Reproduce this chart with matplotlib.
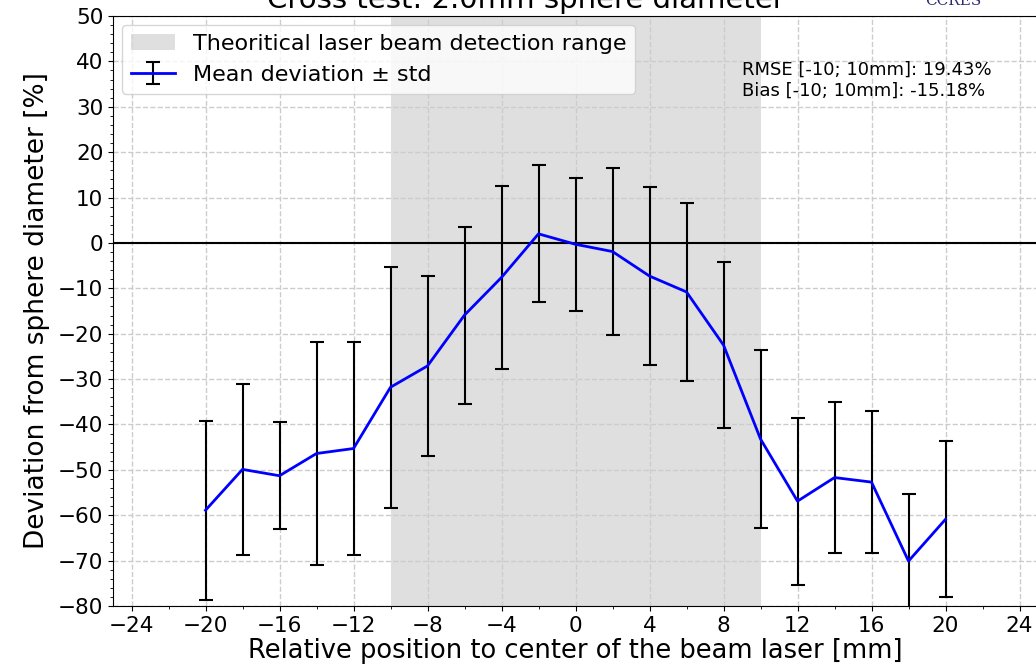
import matplotlib
matplotlib.use("Agg")
import matplotlib.pyplot as plt
from matplotlib.ticker import MultipleLocator, AutoMinorLocator
import numpy as np

positions = [-20, -18, -16, -14, -12, -10, -8, -6, -4, -2, 0, 2, 4, 6, 8, 10, 12, 14, 16, 18, 20]
mean_dev = [-58.9, -49.9, -51.3, -46.4, -45.3, -31.8, -27.1, -15.9, -7.6, 2.0, -0.3, -1.9, -7.3, -10.8, -22.5,
            -43.2, -56.9, -51.7, -52.7, -70.1, -60.9]
std_dev = [19.7, 18.8, 11.8, 24.5, 23.4, 26.5, 19.9, 19.5, 20.2, 15.1, 14.7, 18.3, 19.6, 19.6, 18.3,
           19.7, 18.4, 16.6, 15.6, 14.7, 17.2]
range_min, range_max = -10, 10
rmse_text = "RMSE [-10; 10mm]: 19.43%"
bias_text = "Bias [-10; 10mm]: -15.18%"

fig = plt.figure(figsize=(10.36, 6.71), dpi=100)
ax = fig.add_axes([113/1036, 1-606/671, 925/1036, 590/671])

ax.axvspan(range_min, range_max, color='gray', alpha=0.25, lw=0,
           label='Theoritical laser beam detection range')
ax.axhline(0, color='black', lw=1.5)
ax.errorbar(positions, mean_dev, yerr=std_dev, color='blue', ecolor='black',
            elinewidth=1.5, capsize=5, capthick=1.5, lw=2, label='Mean deviation ± std')

ax.set_xlim(-25, 25)
ax.set_ylim(-80, 50)
ax.xaxis.set_major_locator(MultipleLocator(4))
ax.xaxis.set_minor_locator(MultipleLocator(2))
ax.yaxis.set_major_locator(MultipleLocator(10))
ax.yaxis.set_minor_locator(AutoMinorLocator(5))
ax.tick_params(axis='both', which='major', labelsize=15.5)
ax.grid(True, which='major', linestyle='--', color='#cccccc', lw=1)

ax.set_xlabel('Relative position to center of the beam laser [mm]', fontsize=18.5, labelpad=2)
ax.set_ylabel('Deviation from sphere diameter [%]', fontsize=19, labelpad=6)

ax.legend(loc='upper left', fontsize=16, borderaxespad=0.4)
ax.text(0.68, 0.925, rmse_text + "\n" + bias_text, transform=ax.transAxes,
        fontsize=13, va='top', ha='left', linespacing=1.25)

fig.suptitle('Cross test: 2.0mm sphere diameter', fontsize=21, x=0.5 + 8/1036, y=1 - 8/671, va='baseline')
fig.text(0.893, 1 - 5/671, 'CCRES', fontsize=11, color='#2a2a70', va='baseline', family='DejaVu Serif')

fig.savefig('out.png', dpi=100)
